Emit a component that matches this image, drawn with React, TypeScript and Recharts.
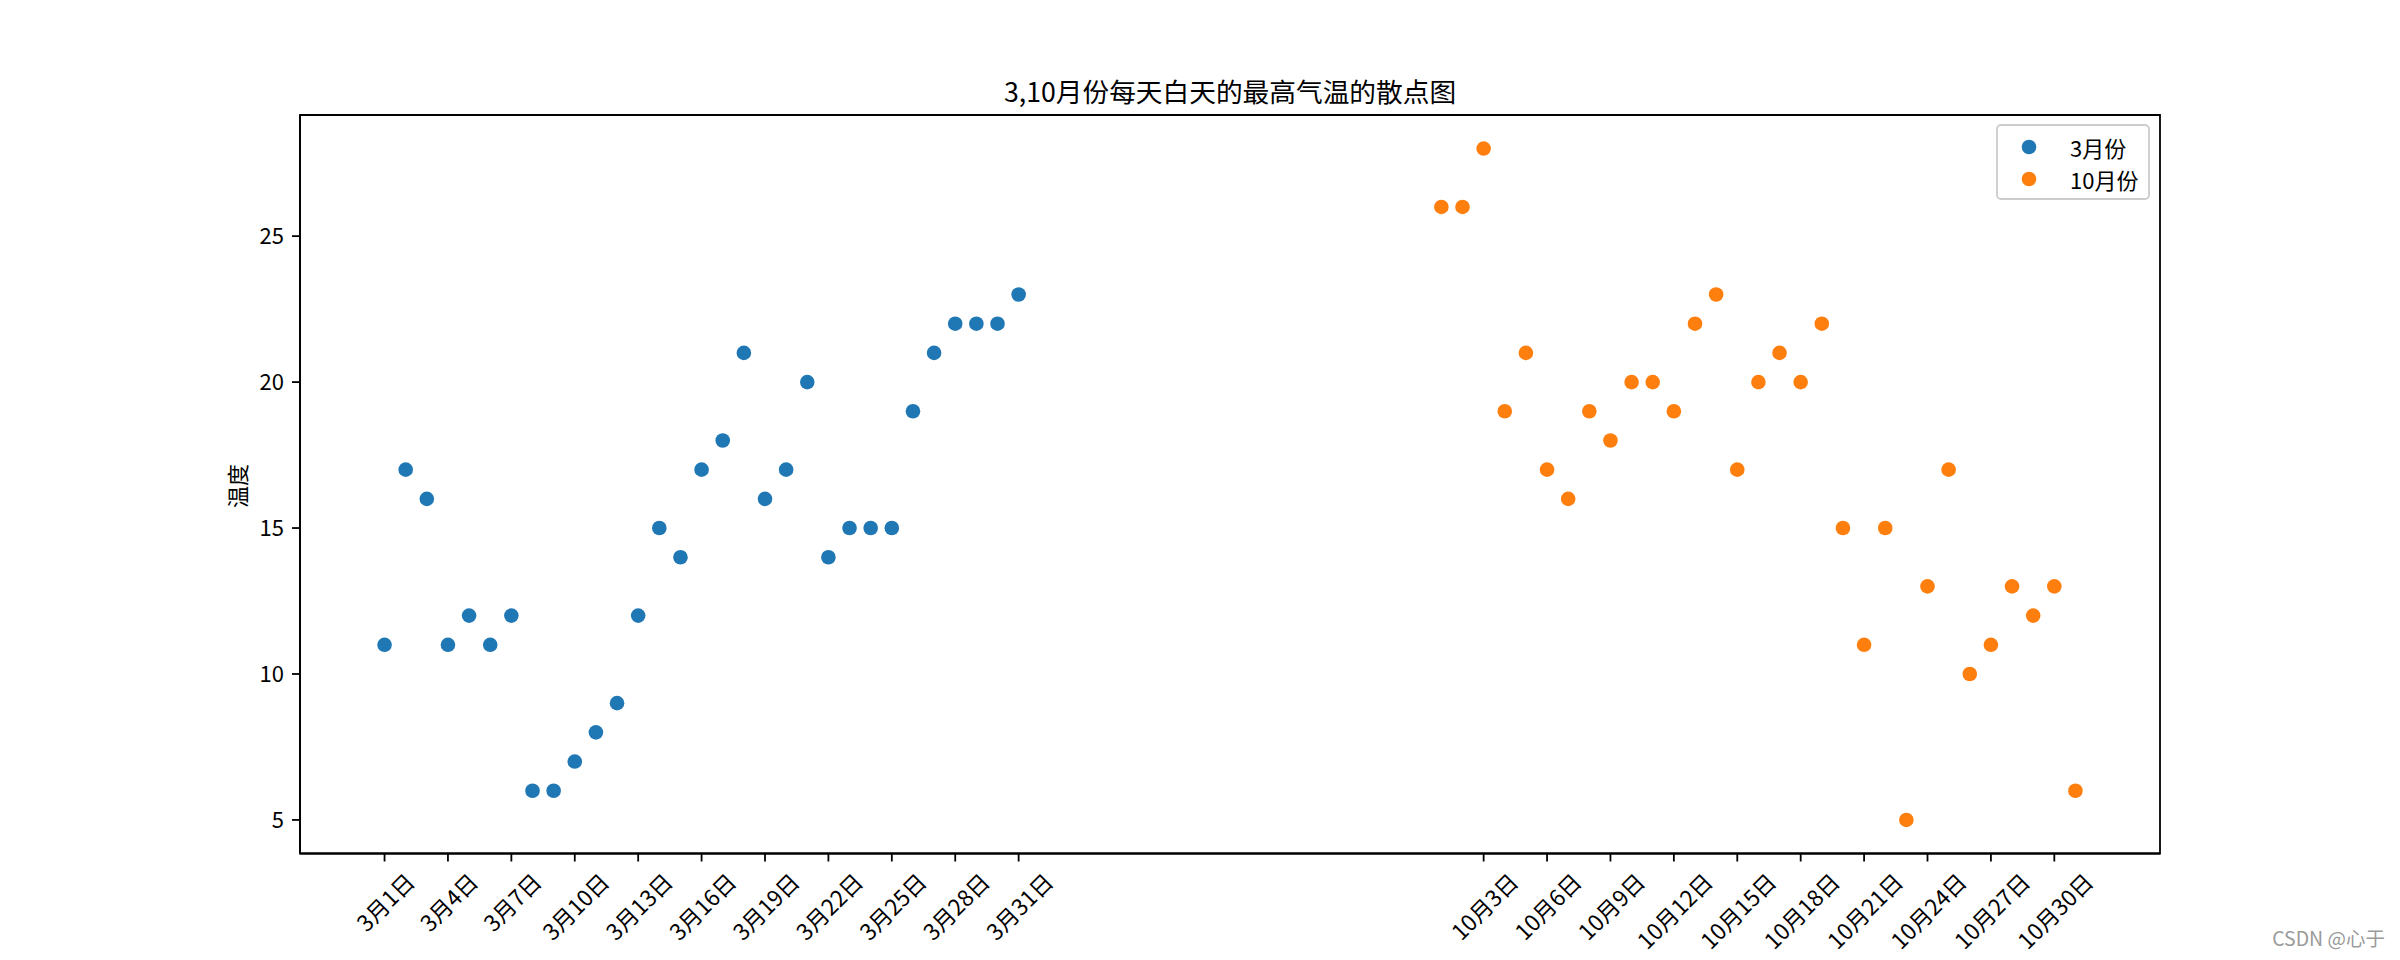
import React from "react";
import { ScatterChart, Scatter, XAxis, YAxis, ReferenceArea } from "recharts";

const marchDays = [1, 2, 3, 4, 5, 6, 7, 8, 9, 10, 11, 12, 13, 14, 15, 16, 17, 18, 19, 20, 21, 22, 23, 24, 25, 26, 27, 28, 29, 30, 31];
const marchTemps = [11, 17, 16, 11, 12, 11, 12, 6, 6, 7, 8, 9, 12, 15, 14, 17, 18, 21, 16, 17, 20, 14, 15, 15, 15, 19, 21, 22, 22, 22, 23];
const octX = [51, 52, 53, 54, 55, 56, 57, 58, 59, 60, 61, 62, 63, 64, 65, 66, 67, 68, 69, 70, 71, 72, 73, 74, 75, 76, 77, 78, 79, 80, 81];
const octTemps = [26, 26, 28, 19, 21, 17, 16, 19, 18, 20, 20, 19, 22, 23, 17, 20, 21, 20, 22, 15, 11, 15, 5, 13, 17, 10, 11, 13, 12, 13, 6];

const xTicks = [1, 4, 7, 10, 13, 16, 19, 22, 25, 28, 31, 53, 56, 59, 62, 65, 68, 71, 74, 77, 80];
const xTickLabels = [
  "3月1日", "3月4日", "3月7日", "3月10日", "3月13日", "3月16日", "3月19日", "3月22日", "3月25日", "3月28日", "3月31日",
  "10月3日", "10月6日", "10月9日", "10月12日", "10月15日", "10月18日", "10月21日", "10月24日", "10月27日", "10月30日",
];
const yTicks = [5, 10, 15, 20, 25];

const marchData = marchDays.map((d, i) => ({ x: d, y: marchTemps[i] }));
const octData = octX.map((d, i) => ({ x: d, y: octTemps[i] }));

const FONT = '"Noto Sans CJK SC", "Noto Sans", sans-serif';
const BLUE = "#1f77b4";
const ORANGE = "#ff7f0e";

let ctx: CanvasRenderingContext2D | null = null;
function textWidth(s: string, font: string): number {
  if (!ctx && typeof document !== "undefined") {
    ctx = document.createElement("canvas").getContext("2d");
  }
  if (!ctx) return s.length * 18;
  ctx.font = font;
  return ctx.measureText(s).width;
}

const XTick = (props: any) => {
  const { x, y, payload } = props;
  const idx = xTicks.indexOf(payload.value);
  const label = idx >= 0 ? xTickLabels[idx] : "";
  const fs = 22.5;
  const w = textWidth(label, `${fs}px ${FONT}`);
  const h = fs;
  const half = (w + h) / (2 * Math.SQRT2);
  const cy = y + 7 + half;
  return (
    <text
      x={x}
      y={cy}
      transform={`rotate(-45 ${x} ${cy})`}
      textAnchor="middle"
      dominantBaseline="central"
      fontSize={fs}
      fontFamily={FONT}
      fill="#000"
    >
      {label}
    </text>
  );
};

const dot = (color: string) => (props: any) => {
  const { cx, cy } = props;
  return <circle cx={cx} cy={cy} r={7.3} fill={color} />;
};

export default function App() {
  return (
    <div style={{ position: "absolute", left: 0, top: 0, width: 2400, height: 960, background: "#fff" }}>
      <ScatterChart
        width={2400}
        height={960}
        margin={{ top: 115, right: 240, bottom: 0, left: 0 }}
      >
        <XAxis
          type="number"
          dataKey="x"
          domain={[-3, 85]}
          ticks={xTicks}
          interval={0}
          allowDataOverflow
          height={106.5}
          tickSize={8}
          tickMargin={0}
          tick={<XTick />}
          axisLine={{ stroke: "#000", strokeWidth: 1.8 }}
          tickLine={{ stroke: "#000", strokeWidth: 1.8 }}
        />
        <YAxis
          type="number"
          dataKey="y"
          domain={[3.85, 29.15]}
          ticks={yTicks}
          interval={0}
          allowDataOverflow
          width={300}
          tickSize={8}
          tickMargin={8}
          tick={{ fontSize: 22, fontFamily: FONT, fill: "#000" }}
          axisLine={{ stroke: "#000", strokeWidth: 1.8 }}
          tickLine={{ stroke: "#000", strokeWidth: 1.8 }}
        />
        <ReferenceArea
          x1={-3}
          x2={85}
          y1={3.85}
          y2={29.15}
          fill="none"
          fillOpacity={0}
          stroke="#000"
          strokeWidth={1.8}
          ifOverflow="visible"
        />
        <Scatter name="3月份" data={marchData} fill={BLUE} shape={dot(BLUE)} isAnimationActive={false} />
        <Scatter name="10月份" data={octData} fill={ORANGE} shape={dot(ORANGE)} isAnimationActive={false} />
      </ScatterChart>
      <svg
        width={2400}
        height={960}
        style={{ position: "absolute", left: 0, top: 0, pointerEvents: "none" }}
      >
        <text x={1230} y={102} textAnchor="middle" fontSize={26.7} fontFamily={FONT} fill="#000">
          3,10月份每天白天的最高气温的散点图
        </text>
        <text
          x={236}
          y={486}
          transform="rotate(-90 236 486)"
          textAnchor="middle"
          dominantBaseline="central"
          fontSize={22}
          fontFamily={FONT}
          fill="#000"
        >
          温度
        </text>
        <rect x={1997} y={125} width={152} height={74} rx={4} ry={4} fill="#fff" fillOpacity={0.8} stroke="#cccccc" strokeWidth={1.8} />
        <circle cx={2029} cy={147} r={7.3} fill={BLUE} />
        <circle cx={2029} cy={179} r={7.3} fill={ORANGE} />
        <text x={2070} y={147} dominantBaseline="central" fontSize={22} fontFamily={FONT} fill="#000">3月份</text>
        <text x={2070} y={179} dominantBaseline="central" fontSize={22} fontFamily={FONT} fill="#000">10月份</text>
        <text x={2385} y={946} textAnchor="end" fontSize={19.5} fontFamily={FONT} fill="#9a9a9a">CSDN @心于</text>
      </svg>
    </div>
  );
}
